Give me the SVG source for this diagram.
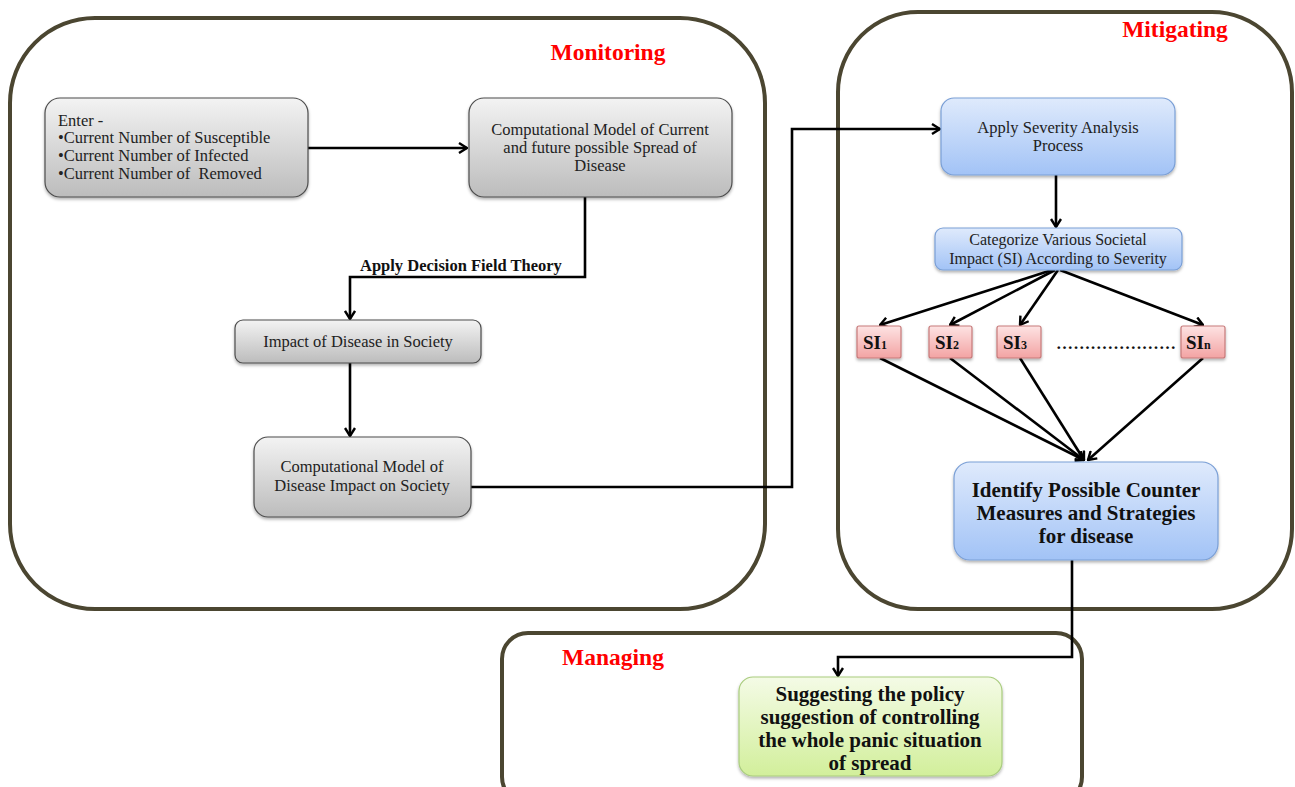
<svg xmlns="http://www.w3.org/2000/svg" width="1295" height="787" viewBox="0 0 1295 787">
<defs>
<linearGradient id="gGray" x1="0" y1="0" x2="0" y2="1"><stop offset="0" stop-color="#f3f3f3"/><stop offset="1" stop-color="#bcbcbc"/></linearGradient>
<linearGradient id="gBlue" x1="0" y1="0" x2="0" y2="1"><stop offset="0" stop-color="#dfeafc"/><stop offset="1" stop-color="#a2c3f6"/></linearGradient>
<linearGradient id="gRed" x1="0" y1="0" x2="0" y2="1"><stop offset="0" stop-color="#fde3e3"/><stop offset="1" stop-color="#f3a3a3"/></linearGradient>
<linearGradient id="gGreen" x1="0" y1="0" x2="0" y2="1"><stop offset="0" stop-color="#f4fbe6"/><stop offset="1" stop-color="#d2ef9b"/></linearGradient>
<filter id="sh" x="-10%" y="-10%" width="120%" height="130%"><feDropShadow dx="0" dy="2" stdDeviation="1.5" flood-color="#000" flood-opacity="0.3"/></filter>
<marker id="arr" viewBox="0 0 12 12" refX="11" refY="6" markerWidth="12" markerHeight="12" markerUnits="userSpaceOnUse" orient="auto">
<polyline points="3,1 11,6 3,11" fill="none" stroke="#000" stroke-width="2.4"/>
</marker>
</defs>
<style>
.cont{fill:none;stroke:#4b4631;stroke-width:4}
.gray{fill:url(#gGray);stroke:#4d4d4d;stroke-width:1.2;filter:url(#sh)}
.blue{fill:url(#gBlue);stroke:#7a9fd6;stroke-width:1.2;filter:url(#sh)}
.red{fill:url(#gRed);stroke:#c77a7a;stroke-width:1.2;filter:url(#sh)}
.green{fill:url(#gGreen);stroke:#a9cc7e;stroke-width:1.2;filter:url(#sh)}
text{font-family:"Liberation Serif","DejaVu Serif",serif;fill:#222}
.t{font-size:16.5px}
.c{text-anchor:middle}
.title{font-size:23.5px;font-weight:bold;fill:#ff0000}
.b{font-weight:bold;fill:#111}
.conn{fill:none;stroke:#000;stroke-width:2.6}
.pre{white-space:pre}
</style>
<g id="containers">
<rect class="cont" x="10" y="18" width="755" height="591" rx="85"/>
<rect class="cont" x="838" y="12" width="454" height="597" rx="80"/>
<rect class="cont" x="502" y="633" width="580" height="170" rx="26"/>
<text class="title c" x="608" y="60">Monitoring</text>
<text class="title c" x="1175" y="37">Mitigating</text>
<text class="title c" x="613" y="665">Managing</text>
</g>
<g id="connectors">
<polyline class="conn" points="308,148 467,148" marker-end="url(#arr)"/>
<polyline class="conn" points="585,197 585,277 350,277 350,319" marker-end="url(#arr)"/>
<text class="b" x="360" y="271" font-size="16.5">Apply Decision Field Theory</text>
<polyline class="conn" points="350,363 350,436" marker-end="url(#arr)"/>
<polyline class="conn" points="471,487 792,487 792,129 940,129" marker-end="url(#arr)"/>
<polyline class="conn" points="1056,175 1056,227" marker-end="url(#arr)"/>
<line class="conn" x1="1052" y1="270" x2="880" y2="325" marker-end="url(#arr)"/>
<line class="conn" x1="1055" y1="270" x2="950" y2="325" marker-end="url(#arr)"/>
<line class="conn" x1="1058" y1="270" x2="1020" y2="325" marker-end="url(#arr)"/>
<line class="conn" x1="1060" y1="270" x2="1203" y2="325" marker-end="url(#arr)"/>
<line class="conn" x1="880" y1="358" x2="1084" y2="460" marker-end="url(#arr)"/>
<line class="conn" x1="950" y1="358" x2="1084" y2="460" marker-end="url(#arr)"/>
<line class="conn" x1="1020" y1="358" x2="1084" y2="460" marker-end="url(#arr)"/>
<line class="conn" x1="1203" y1="358" x2="1088" y2="460" marker-end="url(#arr)"/>
<polyline class="conn" points="1072,560 1072,657 838,657 838,676" marker-end="url(#arr)"/>
</g>
<g id="n-enter">
<rect class="gray" x="45" y="98" width="263" height="99" rx="15"/>
<text class="t" x="58" y="126">Enter -</text>
<text class="t" x="58" y="143">•Current Number of Susceptible</text>
<text class="t" x="58" y="161">•Current Number of Infected</text>
<text class="t pre" x="58" y="179">•Current Number of  Removed</text>
</g>
<g id="n-model1">
<rect class="gray" x="469" y="98" width="263" height="99" rx="15"/>
<text class="t c" x="600" y="135">Computational Model of Current</text>
<text class="t c" x="600" y="153">and future possible Spread of</text>
<text class="t c" x="600" y="171">Disease</text>
</g>
<g id="n-impact">
<rect class="gray" x="235" y="320" width="246" height="43" rx="8"/>
<text class="t c" x="358" y="347">Impact of Disease in Society</text>
</g>
<g id="n-model2">
<rect class="gray" x="254" y="437" width="217" height="80" rx="14"/>
<text class="t c" x="362" y="472">Computational Model of</text>
<text class="t c" x="362" y="491">Disease Impact on Society</text>
</g>
<g id="n-severity">
<rect class="blue" x="941" y="98" width="234" height="77" rx="13"/>
<text class="t c" x="1058" y="133">Apply Severity Analysis</text>
<text class="t c" x="1058" y="151">Process</text>
</g>
<g id="n-categorize">
<rect class="blue" x="935" y="228" width="247" height="42" rx="8"/>
<text class="c" font-size="16" x="1058" y="245">Categorize Various Societal</text>
<text class="c" font-size="16" x="1058" y="264">Impact (SI) According to Severity</text>
</g>
<g id="n-si1">
<rect class="red" x="857" y="326" width="44" height="32" rx="2"/>
<text class="b" font-size="19" x="863" y="349">SI<tspan font-size="12">1</tspan></text>
</g>
<g id="n-si2">
<rect class="red" x="929" y="326" width="43" height="32" rx="2"/>
<text class="b" font-size="19" x="935" y="349">SI<tspan font-size="12">2</tspan></text>
</g>
<g id="n-si3">
<rect class="red" x="997" y="326" width="44" height="32" rx="2"/>
<text class="b" font-size="19" x="1003" y="349">SI<tspan font-size="12">3</tspan></text>
</g>
<g id="n-dots">
<text class="b" font-size="17" x="1056" y="349" textLength="120">…………………</text>
</g>
<g id="n-sin">
<rect class="red" x="1181" y="326" width="44" height="32" rx="2"/>
<text class="b" font-size="19" x="1186" y="349">SI<tspan font-size="12">n</tspan></text>
</g>
<g id="n-identify">
<rect class="blue" x="954" y="462" width="264" height="98" rx="16"/>
<text class="b c" font-size="21" x="1086" y="497">Identify Possible Counter</text>
<text class="b c" font-size="21" x="1086" y="520">Measures and Strategies</text>
<text class="b c" font-size="21" x="1086" y="543">for disease</text>
</g>
<g id="n-suggest">
<rect class="green" x="739" y="677" width="263" height="99" rx="14"/>
<text class="b c" font-size="21" x="870" y="701">Suggesting the policy</text>
<text class="b c" font-size="21" x="870" y="724">suggestion of controlling</text>
<text class="b c" font-size="21" x="870" y="747">the whole panic situation</text>
<text class="b c" font-size="21" x="870" y="770">of spread</text>
</g>
</svg>
